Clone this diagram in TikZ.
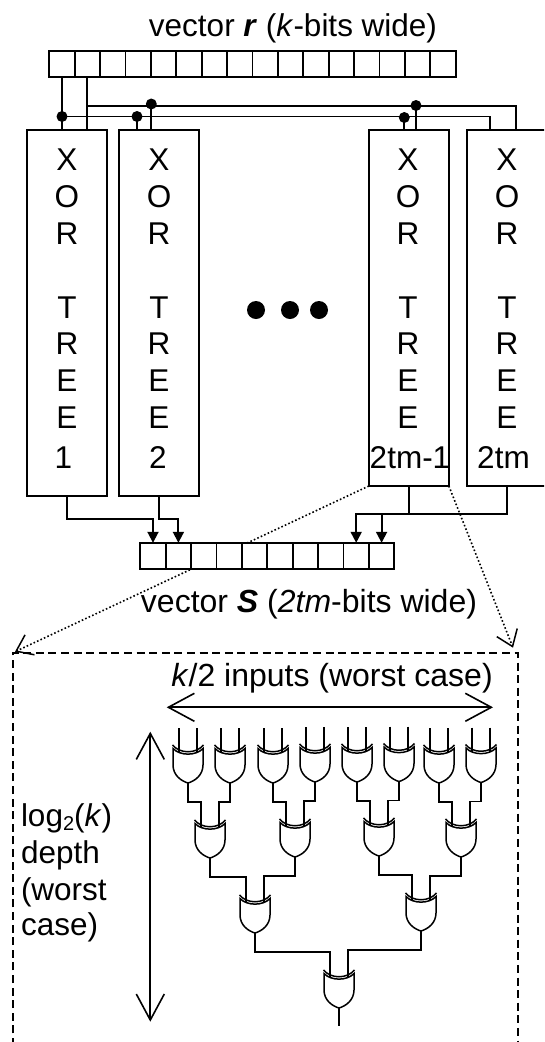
\documentclass[tikz,border=0pt]{standalone}
\usepackage{fontspec}
\setmainfont{Liberation Sans}
\usetikzlibrary{arrows.meta}
\newcommand{\bigtext}{\fontsize{31.5}{36.8}\selectfont}
\newcommand{\widetext}{\fontsize{32}{36.8}\selectfont}
\tikzset{
  wire/.style={line width=1.9pt,line cap=butt},
  thinwire/.style={line width=1.6pt,line cap=butt},
  cellbox/.style={draw,line width=1.8pt,fill=white,minimum width=25.4pt,minimum height=25.8pt,inner sep=0pt,outer sep=0pt},
  treebox/.style={draw,line width=1.9pt,fill=white,minimum width=80pt,inner sep=0pt,outer sep=0pt},
  junction/.style={circle,fill=black,inner sep=0pt,outer sep=0pt,minimum size=11pt},
  bigdot/.style={circle,fill=black,inner sep=0pt,outer sep=0pt,minimum size=18pt},
  label/.style={inner sep=0pt,outer sep=0pt,anchor=base,font=\bigtext},
  treetext/.style={label,align=center},
  filledarrow/.style={wire,-{Triangle[length=11pt,width=11pt]}},
  zoomline/.style={line width=1.6pt,dash pattern=on 1.6pt off 2.2pt,-{Straight Barb[length=15pt,width=22pt,line width=1.5pt]}},
  dimarrow/.style={line width=1.7pt,{Straight Barb[length=26pt,width=28pt,line width=1.6pt]}-{Straight Barb[length=26pt,width=28pt,line width=1.6pt]}},
  xorgate/.pic={
    \coordinate (-a) at (-9,7.5);
    \coordinate (-b) at (9,7.5);
    \coordinate (-ta) at (-9,-17);
    \coordinate (-tb) at (9,-17);
    \coordinate (-o) at (0,38);
    \draw[line width=1.5pt] (-15.5,0) .. controls (-8,9) and (8,9) .. (15.5,0);
    \draw[line width=1.5pt,fill=white] (-15,3.5) .. controls (-8,11) and (8,11) .. (15,3.5)
      -- (15,20) .. controls (15,30) and (7,36) .. (0,38)
      .. controls (-7,36) and (-15,30) .. (-15,20) -- cycle;
  }
}
\begin{document}
\begin{tikzpicture}[x=1pt,y=-1pt]
\clip (0,0) rectangle (544,1042);
% XOR tree boxes
\node[treebox,minimum height=366pt] (b1) at (66.7,313) {};
\node[treebox,minimum height=366pt] (b2) at (158.85,313) {};
\node[treebox,minimum height=356pt] (b3) at (408.85,308) {};
\node[treebox,minimum height=356pt] (b4) at (506.7,308) {};
\foreach \n/\x in {t1/67,t2/159,t3/408,t4/507}{
  \node[treetext] (\n) at (\x,428.5) {X\\O\\R\\\mbox{}\\T\\R\\E\\E};
}
\node[label] (n1) at (63.5,468) {1};
\node[label] (n2) at (158,468) {2};
\node[label] (n3) at (410,468) {2tm-1};
\node[label] (n4) at (503.5,468) {2tm};
% register r
\foreach \i in {1,...,16}{
  \node[cellbox] (r\i) at ({49.3+25.4*(\i-0.5)},63.85) {};
}
\node[label] (rlabel) at (293,36) {vector \textbf{\textit{r}} (\textit{k}-bits wide)};
% bus
\coordinate (b4a) at (490,130);
\coordinate (b4b) at (516,130);
\coordinate (h0) at (88,105.7);
\node[junction] (j1) at (62,116.5) {};
\node[junction] (j2) at (137,116.5) {};
\node[junction] (j3) at (151.3,104) {};
\node[junction] (j4) at (404.3,117.5) {};
\node[junction] (j5) at (416,105.5) {};
\draw[wire] (r1.south) -- (r1.south |- b1.north);
\draw[wire] (r2.south) -- (r2.south |- b1.north);
\draw[wire] (j1.center) -| (b4a);
\draw[wire] (h0) -| (b4b);
\draw[wire] (j2.center) -- (j2.center |- b2.north);
\draw[wire] (j3.center) -- (j3.center |- b2.north);
\draw[wire] (j4.center) -- (j4.center |- b3.north);
\draw[wire] (j5.center) -- (j5.center |- b3.north);
% big dots
\node[bigdot] (dot1) at (256,310) {};
\node[bigdot] (dot2) at (290,310) {};
\node[bigdot] (dot3) at (319,310) {};
% zoom lines and frame
\coordinate (tipl) at (15,651.7);
\coordinate (tipr) at (513,647.7);
\draw[zoomline] (b3.south west) -- (tipl);
\draw[zoomline] (b3.south east) -- (tipr);
\coordinate (d1) at (12.7,1046);
\coordinate (d2) at (12.7,653.3);
\coordinate (d3) at (518,653.3);
\coordinate (d4) at (518,1046);
\draw[line width=1.7pt,dash pattern=on 8pt off 4.6pt] (d1) -- (d2) -- (d3) -- (d4);
% register S
\foreach \i in {1,...,10}{
  \node[cellbox] (s\i) at ({140.3+25.4*(\i-0.5)},555.7) {};
}
\node[label,font=\widetext] (slabel) at (309,612.7) {vector \textbf{\textit{S}} (\textit{2tm}-bits wide)};
% outputs
\draw[filledarrow] (b1.south) |- ++(0,23.3) -| (s1.north);
\draw[filledarrow] (b2.south) |- ++(0,23.3) -| (s2.north);
\coordinate (m3) at (408.85,514.3);
\coordinate (m4) at (506.7,514.3);
\draw[wire] (b3.south) -- (m3);
\draw[wire] (b4.south) -- (m4) -- (m3);
\draw[filledarrow] (m3) -| (s9.north);
\draw[filledarrow] (m3) -| (s10.north);
% dimensions
\node[label,font=\widetext] (klabel) at (332,686.7) {\textit{k}/2 inputs (worst case)};
\coordinate (hl) at (166.7,707.3);
\coordinate (hr) at (493,707.3);
\draw[dimarrow] (hl) -- (hr);
\coordinate (vt) at (150.3,731.7);
\coordinate (vb) at (150.3,1021.7);
\draw[dimarrow] (vt) -- (vb);
\node[label,anchor=base west] (l1) at (21,826.7) {log\raisebox{-4pt}{\fontsize{20}{20}\selectfont 2}(\textit{k})};
\node[label,anchor=base west] (l2) at (21,863.3) {depth};
\node[label,anchor=base west] (l3) at (21,900) {(worst};
\node[label,anchor=base west] (l4) at (21,935.7) {case)};
% gates
\foreach \n/\x/\y in {g1/188/745,g2/230/745,g3/273/745,g4/315/744,g5/357/744,g6/399/743.5,g7/439/745,g8/481/744.5,
  g9/210/820,g10/295/819,g11/379/818,g12/461/819,g13/255/895,g14/421/893,g15/339/970}{
  \pic (\n) at (\x,\y) {xorgate};
}
\foreach \n in {1,...,8}{
  \draw[thinwire] (g\n-ta) -- (g\n-a);
  \draw[thinwire] (g\n-tb) -- (g\n-b);
}
\foreach \p/\q/\r in {1/2/9,3/4/10,5/6/11,7/8/12,9/10/13,11/12/14,13/14/15}{
  \draw[thinwire] (g\p-o) -- ++(0,19) -| (g\r-a);
  \draw[thinwire] (g\q-o) -- ++(0,19) -| (g\r-b);
}
\coordinate (gout) at (339,1026);
\draw[thinwire] (g15-o) -- (gout);
\end{tikzpicture}
\end{document}
